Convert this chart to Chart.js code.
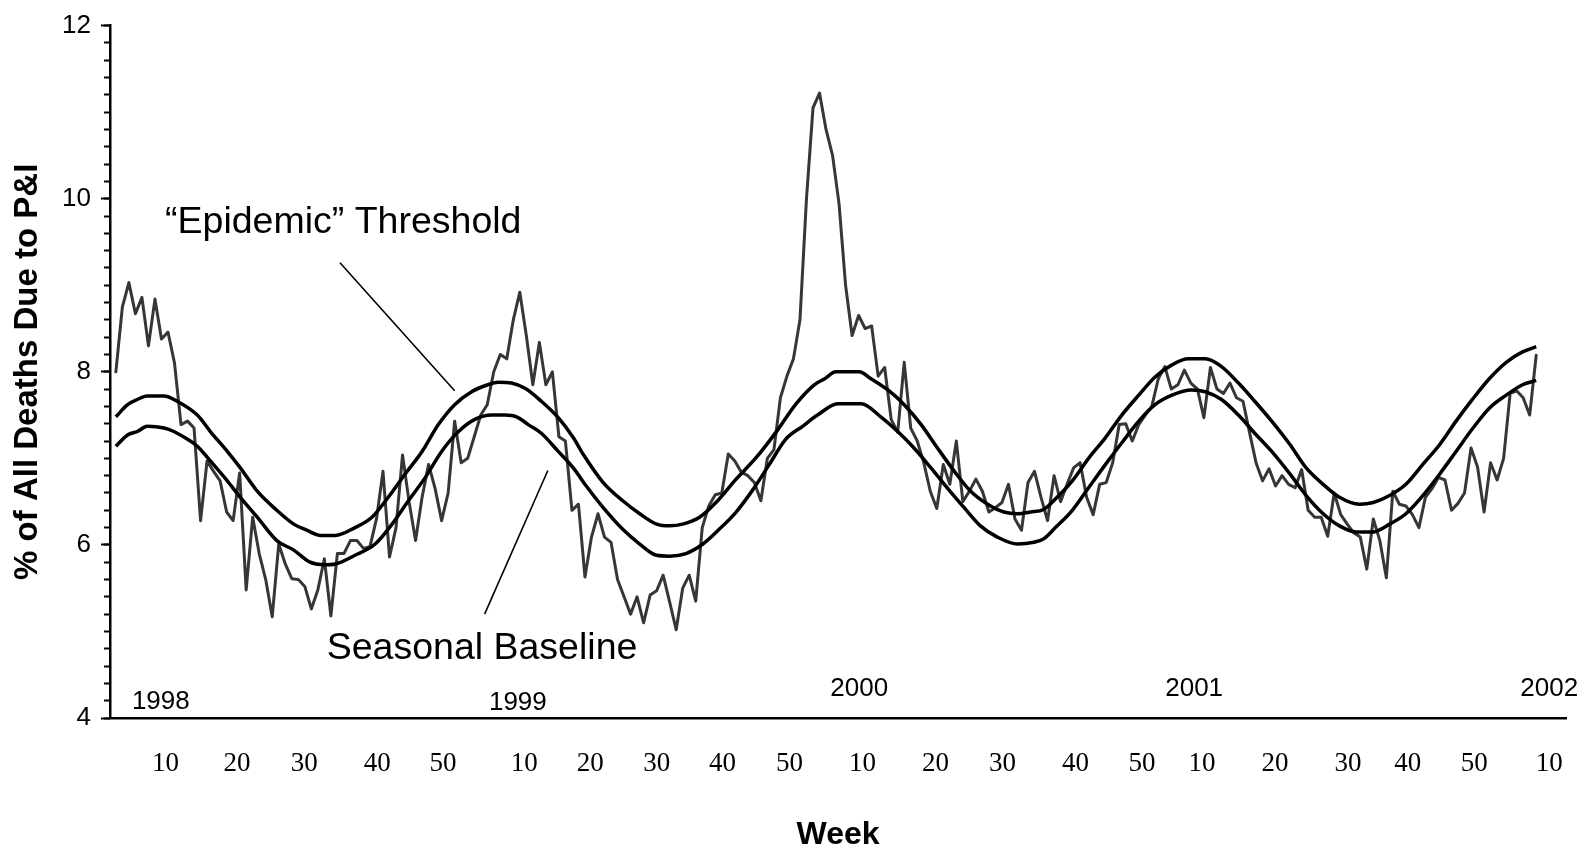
<!DOCTYPE html>
<html>
<head>
<meta charset="utf-8">
<script src="https://cdn.jsdelivr.net/npm/chart.js@4.4.0/dist/chart.umd.min.js"></script>
<style>
  html, body { margin: 0; padding: 0; background: #fff; }
</style>
</head>
<body>
<canvas id="piChart" width="1593" height="854"></canvas>
<script>
// weekly % of deaths due to pneumonia & influenza, week index 0 = 1998 wk 1
const observedPct = [
  8.0, 8.75, 9.03, 8.67, 8.86, 8.3, 8.84, 8.38, 8.46, 8.1,
  7.39, 7.43, 7.35, 6.28, 6.97, 6.85, 6.74, 6.38, 6.28, 6.83,
  5.48, 6.32, 5.9, 5.6, 5.17, 6.01, 5.78, 5.61, 5.6, 5.52,
  5.26, 5.48, 5.84, 5.18, 5.9, 5.9, 6.05, 6.05, 5.96, 5.98,
  6.3, 6.85, 5.86, 6.2, 7.04, 6.5, 6.05, 6.55, 6.93, 6.65,
  6.28, 6.6, 7.43, 6.95, 7.0, 7.25, 7.5, 7.62, 8.0, 8.2,
  8.15, 8.6, 8.92, 8.42, 7.85, 8.34, 7.85, 8.0, 7.25, 7.2,
  6.4, 6.47, 5.63, 6.09, 6.36, 6.09, 6.03, 5.6, 5.4, 5.2,
  5.4, 5.1, 5.42, 5.47, 5.65, 5.34, 5.02, 5.5, 5.65, 5.35,
  6.2, 6.45, 6.58, 6.6, 7.05, 6.97, 6.84, 6.8, 6.72, 6.51,
  7.0, 7.1, 7.7, 7.95, 8.15, 8.6, 10.0, 11.05, 11.22, 10.8,
  10.5, 9.94, 9.0, 8.42, 8.65, 8.5, 8.53, 7.95, 8.05, 7.45,
  7.3, 8.11, 7.35, 7.2, 6.95, 6.62, 6.42, 6.93, 6.7, 7.2,
  6.5, 6.62, 6.76, 6.62, 6.38, 6.43, 6.49, 6.7, 6.3, 6.17,
  6.72, 6.85, 6.55, 6.28, 6.8, 6.5, 6.7, 6.89, 6.95, 6.55,
  6.35, 6.7, 6.72, 6.95, 7.39, 7.4, 7.2, 7.39, 7.5, 7.6,
  7.92, 8.06, 7.8, 7.85, 8.02, 7.87, 7.8, 7.47, 8.05, 7.8,
  7.75, 7.87, 7.7, 7.66, 7.3, 6.95, 6.74, 6.88, 6.68, 6.8,
  6.7, 6.66, 6.87, 6.4, 6.32, 6.32, 6.1, 6.6, 6.35, 6.24,
  6.14, 6.09, 5.72, 6.3, 6.05, 5.62, 6.62, 6.47, 6.45, 6.35,
  6.2, 6.55, 6.65, 6.78, 6.75, 6.4, 6.48, 6.6, 7.12, 6.9,
  6.38, 6.95, 6.75, 7.0, 7.75, 7.78, 7.7, 7.5, 8.19
];

const thresholdWeeks = [0, 1.8, 3.3, 4.8, 7.4, 9.4, 12.5, 14.5, 17.1, 19.1, 21.7, 24.7, 27.3, 29.3, 31.4,
  33.7, 36.7, 39.3, 41.8, 44.4, 47, 49.5, 52, 54.6, 57.1, 58.7, 60.7, 62.8, 65.3, 67.9,
  70.2, 71.7, 74.8, 77.8, 80.4, 83, 85, 87, 89.6, 92.1, 95.2, 98.3, 101.3, 104.4, 107.2,
  108.8, 110.5, 114.1, 115.9, 118.5, 121, 123.6, 126.1, 128.7, 131.2, 133.8, 136.3, 138.4, 140.4, 142.4,
  144.2, 146.8, 149.3, 151.9, 154.4, 157, 159.5, 162.1, 164.6, 167.2, 169.7, 172.3, 174.8, 177.4, 180.2,
  182.7, 185.3, 187.8, 190.9, 193, 195.5, 198, 200.6, 203.2, 205.7, 208.3, 210.8, 213.4, 215.9, 218];
const thresholdPct = [7.48, 7.62, 7.68, 7.72, 7.72, 7.66, 7.5, 7.31, 7.08, 6.89, 6.62, 6.4, 6.24, 6.17, 6.11,
  6.11, 6.2, 6.32, 6.55, 6.82, 7.08, 7.39, 7.62, 7.77, 7.85, 7.88, 7.87, 7.81, 7.66, 7.47,
  7.24, 7.05, 6.72, 6.51, 6.36, 6.24, 6.22, 6.24, 6.32, 6.49, 6.76, 7.01, 7.3, 7.63, 7.85,
  7.92, 8.0, 8.0, 7.92, 7.79, 7.62, 7.39, 7.12, 6.85, 6.62, 6.47, 6.38, 6.36, 6.38, 6.41,
  6.53, 6.74, 7.0, 7.24, 7.5, 7.73, 7.94, 8.08, 8.15, 8.15, 8.06, 7.87, 7.66, 7.43, 7.16,
  6.89, 6.7, 6.55, 6.47, 6.49, 6.57, 6.7, 6.93, 7.16, 7.43, 7.69, 7.92, 8.11, 8.23, 8.29];

const baselineWeeks = [0, 1.8, 3.3, 4.8, 7.4, 8.9, 11, 12.5, 14.5, 17.1, 19.1, 21.7, 24.7, 27.3, 29.8,
  31.9, 33.7, 36.7, 39.8, 42.4, 44.9, 47.5, 50, 52.6, 55.1, 57.7, 59.7, 61.5, 63.3, 65.3,
  67.9, 70.2, 72.2, 74.8, 77.8, 80.4, 83, 85, 87.5, 90.1, 92.6, 95.2, 97.7, 100.3, 102.8,
  105.4, 107.7, 110.8, 114.4, 117.4, 120, 122.5, 125.1, 127.6, 130.2, 132.7, 135.3, 138.4, 140.9, 142.4,
  144.2, 146.8, 149.3, 151.9, 154.4, 157, 159.5, 162.1, 165.1, 167.2, 169.7, 172.3, 174.8, 177.4, 180.2,
  182.7, 185.3, 187.8, 190.4, 192.9, 195.5, 198, 200.6, 203.2, 205.7, 208.3, 210.8, 213.4, 215.9, 218];
const baselinePct = [7.14, 7.27, 7.31, 7.37, 7.35, 7.31, 7.22, 7.14, 6.97, 6.74, 6.55, 6.32, 6.05, 5.94, 5.8,
  5.77, 5.78, 5.88, 6.01, 6.24, 6.51, 6.78, 7.08, 7.31, 7.45, 7.5, 7.5, 7.48, 7.39, 7.29,
  7.08, 6.89, 6.68, 6.43, 6.18, 6.01, 5.88, 5.87, 5.9, 6.01, 6.18, 6.38, 6.63, 6.93, 7.22,
  7.37, 7.5, 7.63, 7.63, 7.48, 7.31, 7.12, 6.89, 6.66, 6.43, 6.22, 6.09, 6.01, 6.03, 6.07,
  6.2, 6.4, 6.66, 6.93, 7.18, 7.43, 7.62, 7.73, 7.79, 7.77, 7.68, 7.5, 7.29, 7.08, 6.82,
  6.57, 6.36, 6.22, 6.15, 6.15, 6.24, 6.36, 6.57, 6.82, 7.08, 7.35, 7.58, 7.73, 7.85, 7.9];

// x axis: week-of-year labels (placed where the original put them)
const weekTickAt = [7.6, 18.6, 28.9, 40.1, 50.2, 62.7, 72.8, 83.0, 93.1, 103.4, 114.6,
  125.8, 136.1, 147.3, 157.5, 166.7, 177.9, 189.1, 198.3, 208.5, 220.0];
const weekTickLabels = ['10', '20', '30', '40', '50', '10', '20', '30', '40', '50', '10',
  '20', '30', '40', '50', '10', '20', '30', '40', '50', '10'];

const yearLabels = ['1998', '1999', '2000', '2001', '2002'];

// annotation anchors, in data units [week, %]
const yearLabelAt = [[6.9, 4.19], [61.7, 4.17], [114.1, 4.34], [165.5, 4.34], [220.0, 4.34]];
const callouts = [
  { text: '\u201CEpidemic\u201D Threshold', at: [34.9, 9.72], from: [34.4, 9.26], to: [52.0, 7.78] },
  { text: 'Seasonal Baseline', at: [56.2, 4.80], from: [66.3, 6.86], to: [56.6, 5.20] }
];

const SANS = "'Liberation Sans', Arial, Helvetica, sans-serif";
const SERIF = "'Liberation Serif', 'Times New Roman', serif";

const calloutPlugin = {
  id: 'callouts',
  afterDatasetsDraw(chart) {
    const { ctx, scales: { x, y } } = chart;
    ctx.save();
    ctx.fillStyle = '#000';
    ctx.strokeStyle = '#000';
    ctx.textAlign = 'center';
    ctx.textBaseline = 'middle';

    ctx.font = '26px ' + SANS;
    yearLabels.forEach((t, i) => {
      ctx.fillText(t, x.getPixelForValue(yearLabelAt[i][0]), y.getPixelForValue(yearLabelAt[i][1]));
    });

    ctx.font = '37.5px ' + SANS;
    ctx.lineWidth = 1.6;
    callouts.forEach(c => {
      ctx.fillText(c.text, x.getPixelForValue(c.at[0]), y.getPixelForValue(c.at[1]));
      ctx.beginPath();
      ctx.moveTo(x.getPixelForValue(c.from[0]), y.getPixelForValue(c.from[1]));
      ctx.lineTo(x.getPixelForValue(c.to[0]), y.getPixelForValue(c.to[1]));
      ctx.stroke();
    });
    ctx.restore();
  }
};

new Chart(document.getElementById('piChart'), {
  type: 'line',
  data: {
    datasets: [
      {
        label: 'Epidemic threshold',
        data: thresholdWeeks.map((w, i) => ({ x: w, y: thresholdPct[i] })),
        borderColor: '#000',
        borderWidth: 3.5,
        pointRadius: 0,
        cubicInterpolationMode: 'monotone'
      },
      {
        label: 'Seasonal baseline',
        data: baselineWeeks.map((w, i) => ({ x: w, y: baselinePct[i] })),
        borderColor: '#000',
        borderWidth: 3.5,
        pointRadius: 0,
        cubicInterpolationMode: 'monotone'
      },
      {
        label: '% P&I deaths',
        data: observedPct.map((v, i) => ({ x: i, y: v })),
        borderColor: '#363636',
        borderWidth: 3,
        borderJoinStyle: 'round',
        borderCapStyle: 'round',
        pointRadius: 0,
        tension: 0
      }
    ]
  },
  options: {
    responsive: false,
    animation: false,
    layout: { padding: { top: 20, right: 24, bottom: 0, left: 0 } },
    plugins: {
      legend: { display: false },
      tooltip: { enabled: false }
    },
    scales: {
      x: {
        type: 'linear',
        min: -0.9,
        max: 222.6,
        afterBuildTicks: s => { s.ticks = weekTickAt.map(v => ({ value: v })); },
        afterFit: s => { s.height = 136; },
        grid: { display: false, drawTicks: false },
        border: { display: true, color: '#000', width: 2.5 },
        ticks: {
          autoSkip: false,
          maxRotation: 0,
          padding: 30,
          color: '#000',
          font: { family: SERIF, size: 27 },
          callback: (v, i) => weekTickLabels[i]
        },
        title: {
          display: true,
          text: 'Week',
          color: '#000',
          font: { family: SANS, size: 32, weight: 'bold' },
          padding: { top: 0, bottom: 0 }
        }
      },
      y: {
        min: 4,
        max: 12,
        weight: 1,
        afterFit: s => { s.width = 110; },
        ticks: { stepSize: 2, padding: 10, color: '#000', font: { family: SANS, size: 26 } },
        grid: { drawOnChartArea: false, drawTicks: true, tickLength: 9, tickWidth: 2, tickColor: '#000' },
        border: { display: true, color: '#000', width: 2.5 },
        title: {
          display: true,
          text: '% of All Deaths Due to P&I',
          color: '#000',
          font: { family: SANS, size: 33, weight: 'bold' },
          padding: { top: 8, bottom: 0 }
        }
      },
      yMinor: {
        position: 'left',
        min: 4,
        max: 12,
        weight: 0,
        afterFit: s => { s.width = 0; },
        ticks: { display: false, stepSize: 0.2 },
        grid: { drawOnChartArea: false, drawTicks: true, tickLength: 6, tickWidth: 2, tickColor: '#000' },
        border: { display: false }
      }
    }
  },
  plugins: [calloutPlugin]
});
</script>
</body>
</html>
